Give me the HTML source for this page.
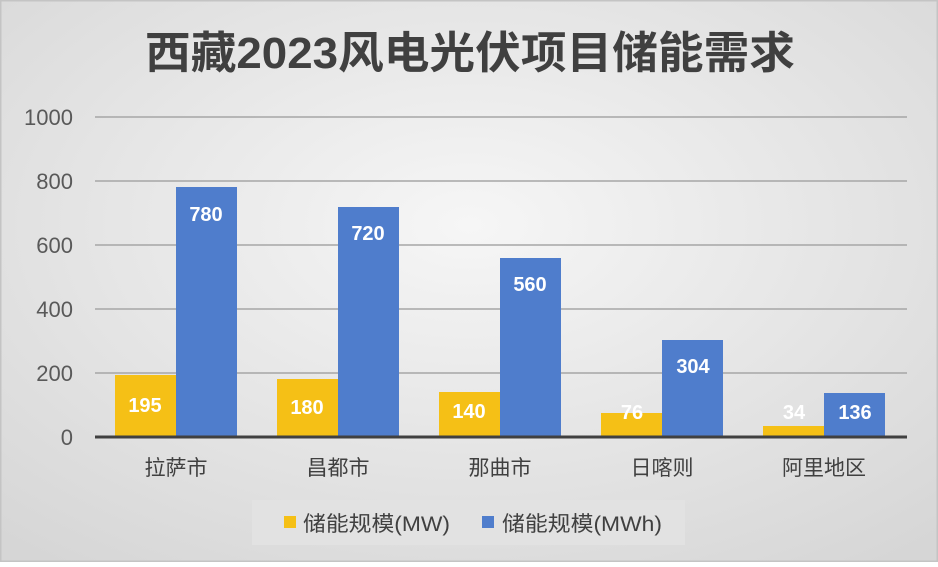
<!DOCTYPE html>
<html><head><meta charset="utf-8"><style>
html,body{margin:0;padding:0;}
body{width:938px;height:562px;overflow:hidden;}
text{font-family:"Liberation Sans","Noto Sans CJK SC",sans-serif;}
</style></head><body>
<svg width="938" height="562" viewBox="0 0 938 562" xmlns="http://www.w3.org/2000/svg">
<defs>
<radialGradient id="bg" cx="50%" cy="40%" r="75%">
<stop offset="0" stop-color="#f6f6f6"/><stop offset="1" stop-color="#d6d6d6"/>
</radialGradient>
</defs>
<rect x="0" y="0" width="938" height="562" fill="url(#bg)"/>
<rect x="0.5" y="0.5" width="937" height="561" fill="none" stroke="#c4c4c4" stroke-width="2"/>
<text x="470" y="68" text-anchor="middle" font-size="44" font-weight="bold" fill="#404040" textLength="650" lengthAdjust="spacingAndGlyphs">西藏2023风电光伏项目储能需求</text>
<g stroke="#a6a6a6" stroke-width="1.5">
<line x1="95" x2="907" y1="117" y2="117"/>
<line x1="95" x2="907" y1="181" y2="181"/>
<line x1="95" x2="907" y1="245" y2="245"/>
<line x1="95" x2="907" y1="309" y2="309"/>
<line x1="95" x2="907" y1="373" y2="373"/>
</g>
<g font-size="22" fill="#595959" text-anchor="end">
<text x="73" y="125">1000</text><text x="73" y="189">800</text><text x="73" y="253">600</text><text x="73" y="317">400</text><text x="73" y="381">200</text><text x="73" y="445">0</text>
</g>
<g fill="#f5c016">
<rect x="115" y="375" width="61" height="62"/>
<rect x="277" y="379" width="61" height="58"/>
<rect x="439" y="392" width="61" height="45"/>
<rect x="601" y="413" width="61" height="24"/>
<rect x="763" y="426" width="61" height="11"/>
</g>
<g fill="#4f7dcc">
<rect x="176" y="187" width="61" height="250"/>
<rect x="338" y="207" width="61" height="230"/>
<rect x="500" y="258" width="61" height="179"/>
<rect x="662" y="340" width="61" height="97"/>
<rect x="824" y="393" width="61" height="44"/>
</g>
<line x1="95" x2="907" y1="437" y2="437" stroke="#404040" stroke-width="3"/>
<g font-size="20" font-weight="bold" fill="#fff" text-anchor="middle">
<text x="145" y="412">195</text><text x="206" y="221">780</text>
<text x="307" y="414">180</text><text x="368" y="240">720</text>
<text x="469" y="418">140</text><text x="530" y="291">560</text>
<text x="632" y="419">76</text><text x="693" y="373">304</text>
<text x="794" y="419">34</text><text x="855" y="419">136</text>
</g>
<g font-size="21" fill="#404040" text-anchor="middle">
<text x="176" y="475">拉萨市</text><text x="338" y="475">昌都市</text><text x="500" y="475">那曲市</text><text x="662" y="475">日喀则</text><text x="824" y="475">阿里地区</text>
</g>
<rect x="252" y="500" width="433" height="45" fill="#e2e2e2"/>
<rect x="284" y="516" width="12" height="12" fill="#f5c016"/>
<text x="303" y="531" font-size="21" fill="#404040" textLength="147" lengthAdjust="spacingAndGlyphs">储能规模(MW)</text>
<rect x="482" y="516" width="12" height="12" fill="#4f7dcc"/>
<text x="502" y="531" font-size="21" fill="#404040" textLength="160" lengthAdjust="spacingAndGlyphs">储能规模(MWh)</text>
</svg>
</body></html>
